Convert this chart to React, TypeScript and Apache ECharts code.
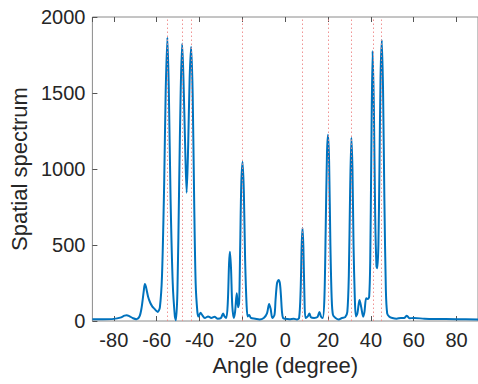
import React, { useEffect, useRef } from "react";
import * as echarts from "echarts";

const angles: number[] = [
  -90, -85, -80, -77, -75, -74, -73, -71, -69.5, -68, -67, -66, -65.5, -65, -64, -63, -62, -61, -60, -59.5,
  -58.5, -57.5, -56.5, -55.8, -55, -54.3, -53.5, -52.5, -51.5, -51, -50.3, -49.5, -48.8, -48.1, -47.5, -46.7,
  -46, -45.3, -44.6, -43.9, -43.2, -42.5, -41.8, -41, -40.5, -39.5, -38.8, -37.5, -36, -34.5, -33, -31.5, -30,
  -29, -28.3, -27.5, -26.8, -26.2, -25.8, -25.3, -24.7, -24, -23.4, -22.6, -22, -21.5, -21, -20.5, -19.9, -19.3,
  -18.7, -18, -17.5, -16.8, -16, -14, -12, -10, -8.5, -7.5, -6.8, -6, -5, -4.5, -3.8, -3.1, -2.5, -2, -1.5, -1,
  0, 2, 4, 5.5, 6.5, 7.2, 7.7, 8.1, 8.5, 9, 9.5, 10.5, 11.3, 12, 13.5, 15, 16, 16.7, 17.5, 18.3, 18.9, 19.5, 20,
  20.5, 21.1, 21.7, 22.3, 23.5, 25, 26.5, 28, 29, 29.7, 30.3, 30.9, 31.4, 31.9, 32.5, 33, 33.7, 34.7, 35.5, 36.4,
  37, 37.8, 38.5, 39.2, 39.7, 40.2, 40.8, 41.4, 42, 42.6, 43, 43.5, 44, 44.5, 45.1, 45.7, 46.3, 47, 47.6, 48.5,
  50, 52, 54, 55.5, 56.8, 58, 60, 65, 70, 80, 90,
];

const spectrum: number[] = [
  12, 12, 14, 22, 35, 38, 34, 18, 12, 30, 90, 200, 243, 225, 160, 120, 95, 80, 65, 60,
  90, 300, 900, 1500, 1865, 1500, 800, 250, 30, 5, 200, 900, 1500, 1825, 1600, 1150,
  844, 1150, 1600, 1805, 1500, 800, 250, 60, 30, 55, 40, 20, 30, 20, 28, 15, 20,
  50, 30, 20, 120, 380, 456, 350, 100, 20, 60, 182, 90, 120, 500, 900, 1048, 850,
  400, 100, 30, 40, 20, 15, 10, 20, 50, 112, 80, 20, 40, 140, 250, 270, 250, 170, 60, 20,
  15, 12, 15, 10, 20, 200, 500, 612, 480, 150, 20, 30, 50, 25, 20, 25, 60, 30, 20, 150, 600, 1100, 1225,
  1050, 500, 150, 40, 20, 10, 20, 25, 60, 300, 850, 1205, 1000, 500, 150, 30, 50, 138, 90, 28,
  60, 150, 145, 160, 400, 1100, 1777, 1400, 700, 360, 347, 500, 1000, 1600, 1849, 1500, 800, 200, 50, 30,
  20, 15, 20, 20, 35, 18, 20, 15, 13, 12, 10,
];

const trueAngles: number[] = [-55, -48, -44, -20, 8, 20, 31, 41, 45];

const xTitle = "Angle (degree)";
const yTitle = "Spatial spectrum";

export default function App() {
  const ref = useRef<HTMLDivElement>(null);
  useEffect(() => {
    if (!ref.current) return;
    const chart = echarts.init(ref.current, null, { renderer: "svg" });
    const font = "'Liberation Sans', Arial, Helvetica, sans-serif";
    const data = angles.map((a, i) => [a, spectrum[i]]);
    const tick = { show: true, inside: true, length: 5, lineStyle: { color: "#555" } };
    chart.setOption({
      animation: false,
      backgroundColor: "#ffffff",
      grid: {
        left: 88,
        top: 17,
        right: -2,
        bottom: 63,
        show: true,
        borderColor: "#8a8a8a",
        borderWidth: 1,
        backgroundColor: "transparent",
      },
      xAxis: [
        {
          type: "value",
          min: -90,
          max: 90,
          splitNumber: 9,
          name: xTitle,
          nameLocation: "middle",
          nameGap: 33,
          nameTextStyle: { fontFamily: font, fontSize: 22, color: "#262626" },
          axisLine: { show: false, onZero: false },
          axisTick: tick,
          axisLabel: {
            fontFamily: font,
            fontSize: 20,
            color: "#262626",
            margin: 9,
            showMinLabel: false,
            showMaxLabel: false,
          },
          splitLine: { show: false },
        },
        {
          type: "value",
          position: "top",
          min: -90,
          max: 90,
          splitNumber: 9,
          axisLine: { show: false, onZero: false },
          axisTick: tick,
          axisLabel: { show: false },
          splitLine: { show: false },
        },
      ],
      yAxis: [
        {
          type: "value",
          min: 0,
          max: 2000,
          interval: 500,
          position: "left",
          name: yTitle,
          nameLocation: "middle",
          nameGap: 60,
          nameTextStyle: { fontFamily: font, fontSize: 22, color: "#262626" },
          axisLine: { show: false, onZero: false },
          axisTick: tick,
          axisLabel: {
            fontFamily: font,
            fontSize: 20,
            color: "#262626",
            margin: 7,
            formatter: (v: number) => String(v),
          },
          splitLine: { show: false },
        },
      ],
      series: [
        {
          type: "line",
          data,
          xAxisIndex: 0,
          yAxisIndex: 0,
          showSymbol: false,
          smooth: 0.3,
          lineStyle: { color: "#0072BD", width: 2 },
          itemStyle: { color: "#0072BD" },
          z: 2,
        },
        {
          type: "line",
          data: [],
          xAxisIndex: 0,
          yAxisIndex: 0,
          z: 3,
          markLine: {
            silent: true,
            symbol: ["none", "none"],
            label: { show: false },
            lineStyle: { color: "#ee8888", type: [1.5, 2.5], width: 1, opacity: 0.9 },
            data: trueAngles.map((a) => ({ xAxis: a })),
          },
        },
      ],
    });
    return () => chart.dispose();
  }, []);
  return <div ref={ref} style={{ width: 478, height: 384, position: "absolute", left: 0, top: 0 }} />;
}
